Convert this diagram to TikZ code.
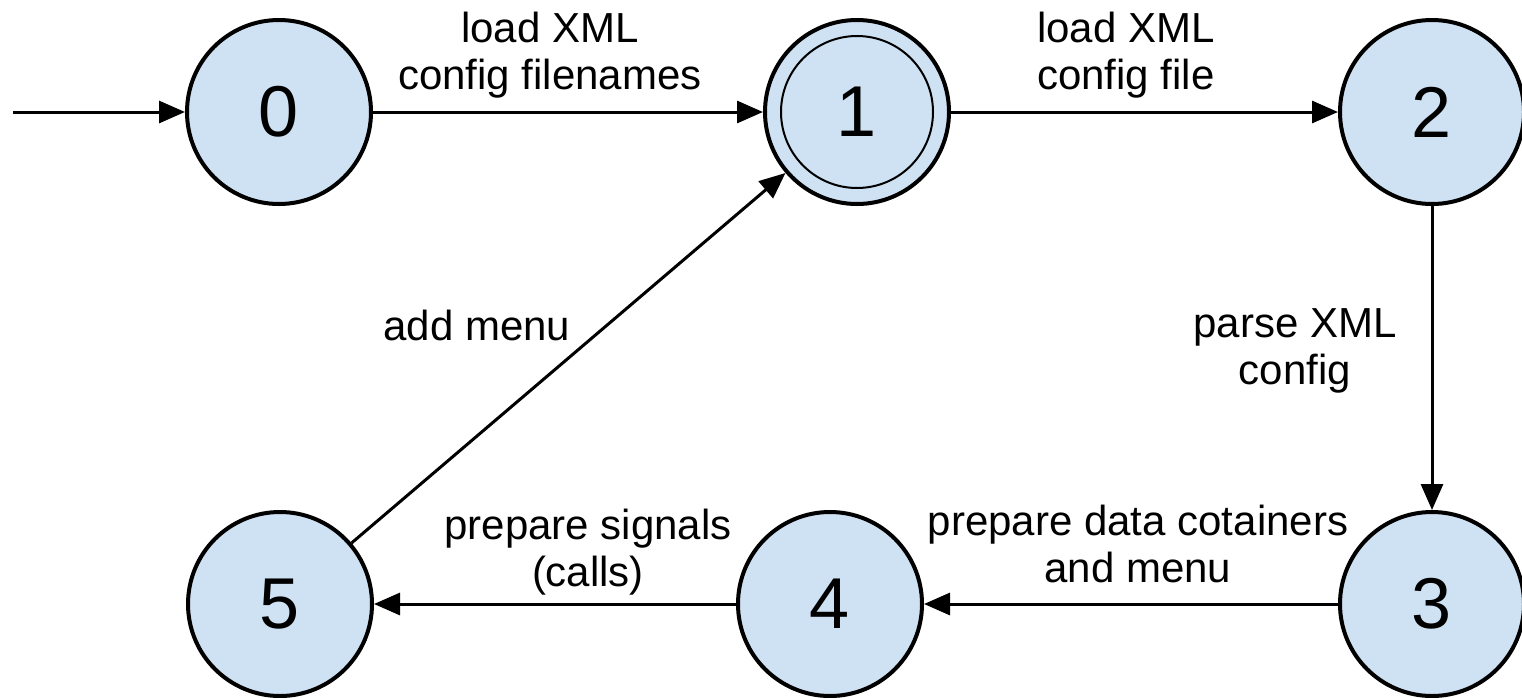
\documentclass[tikz,border=0pt]{standalone}
\usepackage{fontspec}
\setmainfont{Liberation Sans}
\usetikzlibrary{arrows.meta}
\definecolor{statefill}{HTML}{CFE2F3}
\tikzset{
  state/.style={circle, draw=black, line width=2pt, fill=statefill,
    minimum size=92pt, inner sep=0pt, font=\fontsize{36}{40}\selectfont},
  acceptring/.style={draw=black, line width=1pt},
  trans/.style={line width=1.5pt, -{Triangle[length=13pt, width=11pt]}},
  lbl/.style={inner sep=0pt, align=center, font=\fontsize{21}{23.5}\selectfont}
}
\begin{document}
\begin{tikzpicture}[x=0.5pt, y=-0.5pt]
  \useasboundingbox (0,0) rectangle (1522,697);

  % states
  \node[state] (s0) at (279,112) {0};
  \node[state] (s1) at (857,112) {1};
  \node[state] (s2) at (1432,112) {2};
  \node[state] (s3) at (1432,604) {3};
  \node[state] (s4) at (830,604) {4};
  \node[state] (s5) at (280,604) {5};
  \draw[acceptring] (s1.center) circle[radius=38pt];

  % start arrow
  \coordinate (start) at (13,112);
  \draw[trans] (start) -- (s0);

  % transitions
  \draw[trans] (s0) -- (s1);
  \draw[trans] (s1) -- (s2);
  \draw[trans] (s2) -- (s3);
  \draw[trans] (s3) -- (s4);
  \draw[trans] (s4) -- (s5);
  \draw[trans] (s5) -- (s1);

  % transition labels
  \node[lbl] (l01) at (550,55) {load XML\\config filenames};
  \node[lbl] (l12) at (1126,55) {load XML\\config file};
  \node[lbl] (l23) at (1295,351) {parse XML\\config};
  \node[lbl] (l34) at (1138,544) {prepare data cotainers\\and menu};
  \node[lbl] (l45) at (588,552) {prepare signals\\(calls)};
  \node[lbl] (l51) at (477,325) {add menu};
\end{tikzpicture}
\end{document}
